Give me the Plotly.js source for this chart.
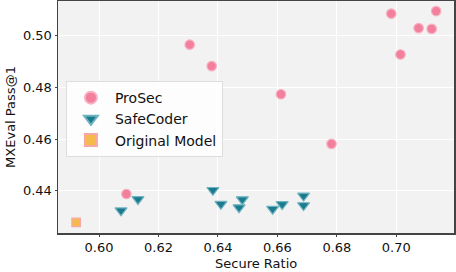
<!DOCTYPE html>
<html>
<head>
<meta charset="utf-8">
<script src="https://cdn.plot.ly/plotly-3.0.1.min.js"></script>
<style>html,body{margin:0;padding:0;background:#fff;}#chart{width:456px;height:272px;}</style>
</head>
<body>
<div id="chart"></div>
<script>
const prosecX = [0.6092, 0.6305, 0.6379, 0.6612, 0.6782, 0.6983, 0.7014, 0.7075, 0.7119, 0.7134];
const prosecY = [0.4388, 0.4966, 0.4883, 0.4774, 0.4582, 0.5086, 0.4928, 0.5030, 0.5027, 0.5096];
const safeX = [0.6074, 0.6131, 0.6383, 0.6410, 0.6471, 0.6482, 0.6584, 0.6616, 0.6688, 0.6688];
const safeY = [0.4324, 0.4368, 0.4403, 0.4349, 0.4336, 0.4367, 0.4330, 0.4348, 0.4381, 0.4344];
const origX = [0.5923];
const origY = [0.4278];
const xTicks = [0.60, 0.62, 0.64, 0.66, 0.68, 0.70];
const yTicks = [0.44, 0.46, 0.48, 0.50];

const font = {family: 'DejaVu Sans', size: 14, color: '#111'};
const tickFont = {family: 'DejaVu Sans', size: 13, color: '#111'};
const titleFont = {family: 'DejaVu Sans', size: 13, color: '#111'};
const data = [
  {x: prosecX, y: prosecY, name: 'ProSec', mode: 'markers', type: 'scatter',
   marker: {symbol: 'circle', size: 9.5, color: '#f27f9c', line: {color: '#f8b0c2', width: 1.2}}},
  {x: safeX, y: safeY, name: 'SafeCoder', mode: 'markers', type: 'scatter',
   marker: {symbol: 'triangle-down', size: 10.5, color: '#1b7b8e', line: {color: '#6fb3c0', width: 1.2}}},
  {x: origX, y: origY, name: 'Original Model', mode: 'markers', type: 'scatter',
   marker: {symbol: 'square', size: 8.5, color: '#f6ba4c', line: {color: '#f6a8a8', width: 1.2}}}
];
const axisCommon = {
  showline: true, mirror: true, linecolor: '#444', linewidth: 1.5,
  ticks: 'outside', ticklen: 2, tickcolor: '#444', tickwidth: 1,
  gridcolor: '#ffffff', gridwidth: 1, zeroline: false, tickfont: tickFont
};
const layout = {
  width: 456, height: 272,
  margin: {l: 58, r: 2, t: 1, b: 39},
  paper_bgcolor: '#ffffff', plot_bgcolor: '#f2f2f2',
  showlegend: true,
  font: font,
  xaxis: Object.assign({}, axisCommon, {
    range: [0.5862, 0.7194], tickvals: xTicks, ticktext: xTicks.map(v => v.toFixed(2))
  }),
  yaxis: Object.assign({}, axisCommon, {
    range: [0.4237, 0.5135], tickvals: yTicks, ticktext: yTicks.map(v => v.toFixed(2)),
    title: {text: 'MXEval Pass@1', font: titleFont, standoff: 4}
  }),
  annotations: [{
    text: 'Secure Ratio', xref: 'paper', yref: 'paper', x: 0.5, y: -0.167,
    xanchor: 'center', yanchor: 'bottom', borderpad: 0, showarrow: false, font: titleFont
  }],
  legend: {
    x: 0.02, y: 0.655, xanchor: 'left', yanchor: 'top',
    bgcolor: 'rgba(255,255,255,0.8)', bordercolor: '#dddddd', borderwidth: 1,
    font: {family: 'DejaVu Sans', size: 14, color: '#111'},
    itemsizing: 'constant', itemwidth: 38, tracegroupgap: 0, entrywidth: 155
  }
};
Plotly.newPlot('chart', data, layout, {displayModeBar: false, staticPlot: true});
</script>
</body>
</html>
